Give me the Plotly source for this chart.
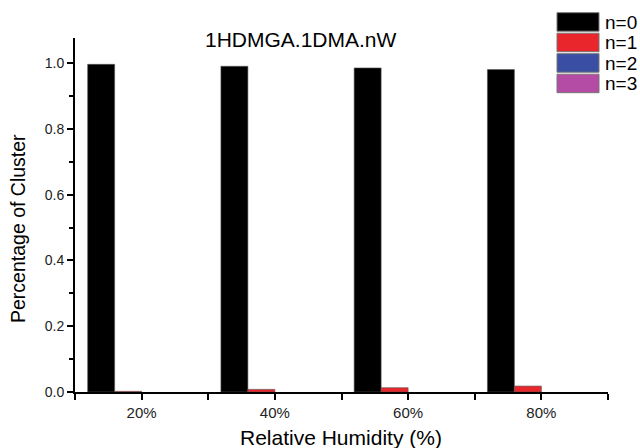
import plotly.graph_objects as go

categories = ["20%", "40%", "60%", "80%"]
series_names = ["n=0", "n=1", "n=2", "n=3"]
n0 = [0.996, 0.990, 0.985, 0.980]
n1 = [0.002, 0.008, 0.013, 0.018]
n2 = [0.0, 0.0, 0.0, 0.0]
n3 = [0.0, 0.0, 0.0, 0.0]
colors = ["#000000", "#e8262c", "#3a4fa3", "#b44ca6"]

FONT = "Liberation Sans, Arial"
xpos = list(range(1, len(categories) + 1))
fig = go.Figure()
for name, vals, c in zip(series_names, [n0, n1, n2, n3], colors):
    lw = 0.6 if max(vals) > 0 else 0
    fig.add_trace(go.Bar(x=xpos, y=vals, name=name, marker=dict(color=c, line=dict(color="#555", width=lw)),
                         showlegend=False))

L, R, T, B = 75, 32, 38, 56
W, H = 640, 448
pw, ph = W - L - R, H - T - B

def px_x(x):
    return (x - L) / pw

def px_y(y):
    return (H - B - y) / ph

shapes = []
annotations = []
for i, (name, c) in enumerate(zip(series_names, colors)):
    top = 12.7 + i * 20.5
    shapes.append(dict(type="rect", xref="paper", yref="paper",
                       x0=px_x(557), x1=px_x(599), y0=px_y(top + 18.5), y1=px_y(top),
                       fillcolor=c, line=dict(color="#777", width=1)))
    annotations.append(dict(xref="paper", yref="paper", x=px_x(603), y=px_y(top + 9.5),
                            text=name, showarrow=False, xanchor="left", yanchor="middle",
                            font=dict(family=FONT, size=19, color="#000")))
annotations.append(dict(xref="paper", yref="paper", x=px_x(301), y=px_y(40), text="1HDMGA.1DMA.nW",
                        showarrow=False, xanchor="center", yanchor="middle",
                        font=dict(family=FONT, size=21, color="#000")))
annotations.append(dict(xref="paper", yref="paper", x=px_x(341), y=px_y(437), text="Relative Humidity (%)",
                        showarrow=False, xanchor="center", yanchor="middle",
                        font=dict(family=FONT, size=21, color="#000")))
annotations.append(dict(xref="paper", yref="paper", x=px_x(18), y=px_y(229), text="Percentage of Cluster",
                        showarrow=False, xanchor="center", yanchor="middle", textangle=-90,
                        font=dict(family=FONT, size=19.5, color="#000")))

fig.update_layout(
    width=W, height=H, margin=dict(l=L, r=R, t=T, b=B),
    plot_bgcolor="white", paper_bgcolor="white",
    barmode="group", bargap=0.19, bargroupgap=0,
    font=dict(family=FONT, color="#000"),
    shapes=shapes, annotations=annotations,
    xaxis=dict(range=[0.5, 4.5], tickvals=xpos, ticktext=categories, showgrid=False, zeroline=False,
               showline=True, linecolor="#000", linewidth=2, ticks="outside", ticklen=6, tickwidth=2,
               tickcolor="#000", tickfont=dict(size=15, color="#222"),
               minor=dict(tickvals=[0.5, 1.5, 2.5, 3.5, 4.5], ticks="outside", ticklen=6, tickwidth=2, tickcolor="#000")),
    yaxis=dict(range=[0, 1.076], tickvals=[0, 0.2, 0.4, 0.6, 0.8, 1.0],
               ticktext=["0.0", "0.2", "0.4", "0.6", "0.8", "1.0"], showgrid=False, zeroline=False,
               showline=True, linecolor="#000", linewidth=2, ticks="outside", ticklen=6, tickwidth=2,
               tickcolor="#000", tickfont=dict(size=14, color="#222"),
               minor=dict(tickvals=[0.1, 0.3, 0.5, 0.7, 0.9], ticks="outside", ticklen=4, tickwidth=2, tickcolor="#000")),
)

fig.write_html("out.html")
